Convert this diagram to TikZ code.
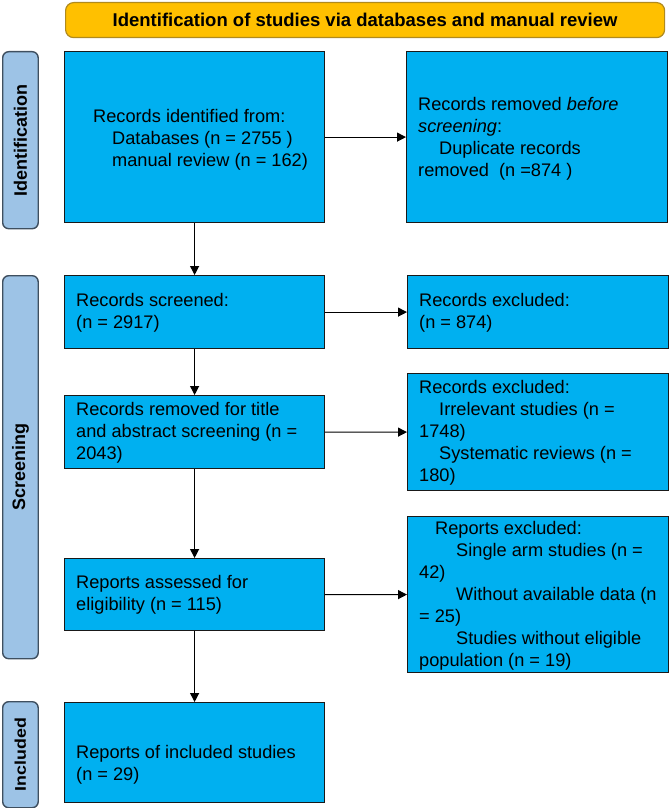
\documentclass[tikz,border=0pt]{standalone}
\usepackage{fontspec}
\setmainfont{Liberation Sans}
\usetikzlibrary{arrows.meta}
\definecolor{boxblue}{HTML}{00B0F0}
\definecolor{titleor}{HTML}{FFC000}
\definecolor{titlebd}{HTML}{B08A1E}
\definecolor{sidebl}{HTML}{9DC3E6}
\definecolor{sidebd}{HTML}{3F4F5F}
\begin{document}
\begin{tikzpicture}[x=1bp,y=-1bp,
  box/.style={draw=black!90, line width=1.2bp, fill=boxblue, inner sep=0pt, anchor=north west},
  txt/.style={anchor=west, align=left, inner sep=0pt, font=\fontsize{18.2bp}{22bp}\selectfont},
  side/.style={draw=sidebd, line width=1.4bp, fill=sidebl, rounded corners=6bp, inner sep=0pt, anchor=north west},
  sidetxt/.style={rotate=90, inner sep=0pt, font=\bfseries\fontsize{18bp}{22bp}\selectfont},
  titlebox/.style={draw=titlebd, line width=1.2bp, fill=titleor, rounded corners=8bp, inner sep=0pt, anchor=north west},
  arr/.style={draw=black, line width=1.2bp, -{Triangle[length=9bp,width=9bp]}}
]
\useasboundingbox (0,0) rectangle (669,808);

% title
\node[titlebox, minimum width=599bp, minimum height=35bp] (tt) at (65,2) {};
\node[inner sep=0pt, font=\bfseries\fontsize{18.5bp}{22bp}\selectfont] (ttx) at (tt.center) {Identification of studies via databases and manual review};

% side labels
\node[side, minimum width=35.5bp, minimum height=177bp] (s1) at (2,51) {};
\node[sidetxt] (s1t) at (s1.center) {Identification};
\node[side, minimum width=35.5bp, minimum height=383bp] (s2) at (2,275) {};
\node[sidetxt] (s2t) at (s2.center) {Screening};
\node[side, minimum width=35.5bp, minimum height=106bp] (s3) at (2,701) {};
\node[sidetxt, xscale=1.15, font=\bfseries\fontsize{15.5bp}{20bp}\selectfont] (s3t) at (s3.center) {Included};

% boxes
\node[box, minimum width=260bp, minimum height=171bp] (b1) at (64,51) {};
\node[box, minimum width=261bp, minimum height=171bp] (b2) at (406,51) {};
\node[box, minimum width=260bp, minimum height=73bp] (b3) at (64,275) {};
\node[box, minimum width=261bp, minimum height=73bp] (b4) at (407,275) {};
\node[box, minimum width=260bp, minimum height=73bp] (b5) at (64,395) {};
\node[box, minimum width=261bp, minimum height=117bp] (b6) at (407,373) {};
\node[box, minimum width=261bp, minimum height=156bp] (b7) at (407,516) {};
\node[box, minimum width=260bp, minimum height=72bp] (b8) at (64,558) {};
\node[box, minimum width=260bp, minimum height=100bp] (b9) at (64,702) {};

% texts
\node[txt] (t1) at (93,139.5) {Records identified from:\\\hspace*{19bp}Databases (n = 2755 )\\\hspace*{19bp}manual review (n = 162)};
\node[txt] (t2) at (418,139) {Records removed \textit{before}\\\textit{screening}:\\\hspace*{21bp}Duplicate records\\removed\ \ (n =874 )};
\node[txt] (t3) at (76,313) {Records screened:\\(n = 2917)};
\node[txt] (t4) at (419,313) {Records excluded:\\(n = 874)};
\node[txt] (t5) at (76,432.5) {Records removed for title\\and abstract screening (n =\\2043)};
\node[txt] (t6) at (419,433) {Records excluded:\\\hspace*{20bp}Irrelevant studies (n =\\1748)\\\hspace*{20bp}Systematic reviews (n =\\180)};
\node[txt] (t7) at (419,595.5) {\hspace*{16bp}Reports excluded:\\\hspace*{37bp}Single arm studies (n =\\42)\\\hspace*{37bp}Without available data (n\\= 25)\\\hspace*{37bp}Studies without eligible\\population (n = 19)};
\node[txt] (t8) at (76,595) {Reports assessed for\\eligibility (n = 115)};
\node[txt] (t9) at (76,764.5) {Reports of included studies\\(n = 29)};

% connectors
\draw[arr] (b1.east) -- (b2.west);
\draw[arr] (b3.east) -- (b4.west);
\draw[arr] (b5.east) -- (b6.west);
\draw[arr] (b8.east) -- (b7.west);
\draw[arr] (b1.south) -- (b3.north);
\draw[arr] (b3.south) -- (b5.north);
\draw[arr] (b5.south) -- (b8.north);
\draw[arr] (b8.south) -- (b9.north);
\end{tikzpicture}
\end{document}
